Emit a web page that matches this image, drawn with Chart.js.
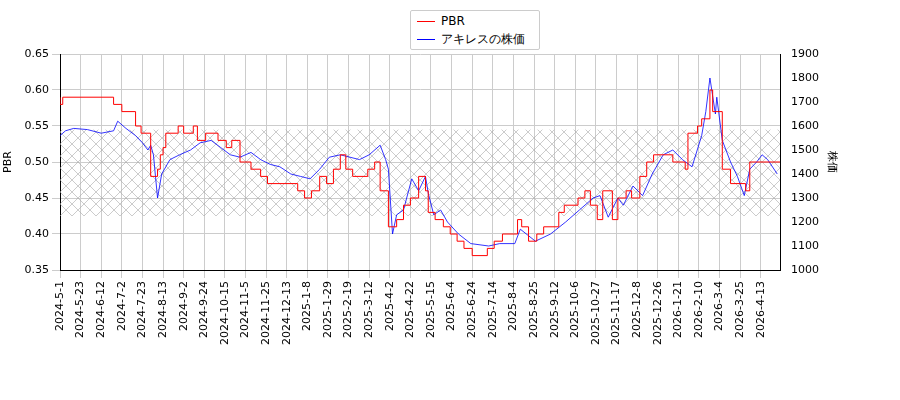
<!DOCTYPE html>
<html>
<head>
<meta charset="utf-8">
<script src="https://cdn.jsdelivr.net/npm/chart.js@4"></script>
<style>
  body { margin: 0; background: #fff; }
  #wrap { width: 900px; height: 400px; position: relative; }
  #legend { position: absolute; left: 410px; top: 10px; width: 128px; height: 36px; border: 1px solid #ccc;
    border-radius: 2px; font: 12px 'DejaVu Sans'; background: #fff; padding: 1px 0; }
  #legend div { height: 18px; line-height: 18px; }
  #legend span { display: inline-block; width: 18px; height: 0; vertical-align: middle; margin: 0 6px 0 6px; }
</style>
</head>
<body>
<div id="wrap"><canvas id="chart1"></canvas>
  <div id="legend">
    <div><span style="border-top:1.5px solid #ff0000"></span>PBR</div>
    <div><span style="border-top:1.5px solid #0000ff"></span>アキレスの株価</div>
  </div>
</div>
<script>
// tick labels, one every 15 trading days
const tickLabels = ['2024-5-1','2024-5-23','2024-6-12','2024-7-2','2024-7-23','2024-8-13','2024-9-2','2024-9-24',
  '2024-10-15','2024-11-5','2024-11-25','2024-12-13','2025-1-8','2025-1-29','2025-2-19','2025-3-12','2025-4-2',
  '2025-4-22','2025-5-15','2025-6-4','2025-6-24','2025-7-14','2025-8-4','2025-8-25','2025-9-12','2025-10-6',
  '2025-10-27','2025-11-17','2025-12-8','2025-12-26','2026-1-21','2026-2-10','2026-3-4','2026-3-25','2026-4-13'];
const lastDay = 524;

// PBR (step changes): trading day index -> value
const pbrDay = [0,2,39,45,55,59,66,71,73,75,77,86,90,97,100,106,115,121,125,131,139,146,151,173,178,183,189,194,199,204,208,213,224,229,233,239,245,250,255,261,266,268,273,279,284,289,294,300,311,316,322,333,336,341,347,352,363,367,377,382,386,391,395,402,406,412,416,422,427,432,446,455,457,464,467,473,475,482,488,499,502,507,524];
const pbrVal = [0.59,0.58,0.59,0.58,0.57,0.55,0.54,0.48,0.49,0.51,0.52,0.54,0.55,0.54,0.55,0.53,0.54,0.53,0.52,0.53,0.50,0.49,0.48,0.47,0.46,0.45,0.46,0.48,0.47,0.49,0.51,0.49,0.48,0.49,0.50,0.46,0.41,0.42,0.44,0.45,0.48,0.46,0.43,0.42,0.41,0.40,0.39,0.38,0.37,0.38,0.39,0.40,0.42,0.41,0.39,0.40,0.41,0.43,0.44,0.45,0.46,0.44,0.42,0.46,0.42,0.45,0.46,0.45,0.48,0.50,0.51,0.50,0.49,0.54,0.55,0.56,0.60,0.57,0.49,0.47,0.46,0.50,0.50];

// share price
const priceDay = [0,4,10,20,30,39,42,48,55,60,64,66,68,71,74,80,87,95,102,110,117,124,131,139,146,153,160,168,175,182,189,196,204,211,218,225,233,237,239,242,245,250,256,261,266,268,272,277,282,290,299,312,320,331,335,346,357,368,378,388,393,399,406,410,417,424,431,439,446,453,460,467,470,473,477,478,482,488,493,498,502,507,511,515,522];
const priceVal = [1560,1580,1590,1585,1570,1580,1620,1590,1560,1530,1500,1520,1480,1300,1400,1460,1480,1500,1530,1540,1510,1480,1470,1490,1460,1440,1430,1400,1390,1380,1420,1470,1480,1470,1460,1480,1520,1460,1420,1150,1230,1250,1380,1330,1390,1320,1230,1250,1200,1150,1110,1100,1110,1110,1170,1120,1150,1200,1250,1300,1310,1220,1300,1270,1350,1310,1400,1480,1500,1460,1430,1560,1660,1800,1650,1720,1540,1450,1390,1310,1420,1450,1480,1460,1400];

const bandLow = 0.425, bandHigh = 0.545;

function pts(d, v) { return d.map((x, i) => ({x: x, y: v[i]})); }

// hatched range band, drawn behind the lines
const bandPlugin = {
  id: 'band',
  beforeDatasetsDraw(chart) {
    const {ctx, chartArea, scales} = chart;
    const p = document.createElement('canvas');
    p.width = 12; p.height = 12;
    const pc = p.getContext('2d');
    pc.strokeStyle = '#aaa'; pc.lineWidth = 0.6;
    pc.beginPath();
    pc.moveTo(0, 0); pc.lineTo(12, 12);
    pc.moveTo(12, 0); pc.lineTo(0, 12);
    pc.stroke();
    const top = scales.y.getPixelForValue(bandHigh);
    const bot = scales.y.getPixelForValue(bandLow);
    ctx.save();
    ctx.fillStyle = ctx.createPattern(p, 'repeat');
    ctx.fillRect(chartArea.left, top, chartArea.right - chartArea.left, bot - top);
    ctx.restore();
  }
};

Chart.defaults.font.family = 'DejaVu Sans';
Chart.defaults.font.size = 11;
Chart.defaults.color = '#000';

const ctx = document.querySelector('#chart1').getContext('2d');
new Chart(ctx, {
  type: 'line',
  data: {
    datasets: [
      { label: 'PBR', data: pts(pbrDay, pbrVal), borderColor: '#ff0000', backgroundColor: '#ff0000',
        borderWidth: 1, pointRadius: 0, stepped: 'after', yAxisID: 'y' },
      { label: 'アキレスの株価', data: pts(priceDay, priceVal), borderColor: '#0000ff', backgroundColor: '#0000ff',
        borderWidth: 0.8, pointRadius: 0, yAxisID: 'y2' }
    ]
  },
  options: {
    animation: false,
    responsive: true,
    maintainAspectRatio: false,
    layout: { padding: { top: 54, right: 60, left: 0, bottom: 0 } },
    plugins: {
      legend: { display: false },
      tooltip: { enabled: false }
    },
    scales: {
      x: {
        type: 'linear', min: 0, max: lastDay,
        grid: { color: '#ccc' },
        border: { color: '#000' },
        afterFit(s) { s.height = 130; },
        afterBuildTicks(s) { s.ticks = tickLabels.map((t, i) => ({ value: i * 15 })); },
        ticks: { autoSkip: false, maxRotation: 90, minRotation: 90,
          callback: v => tickLabels[Math.round(v / 15)] }
      },
      y: {
        position: 'left', min: 0.35, max: 0.65,
        grid: { color: '#ccc' },
        border: { color: '#000' },
        afterFit(s) { s.width = 60; },
        ticks: { stepSize: 0.05, callback: v => v.toFixed(2) },
        title: { display: true, text: 'PBR', padding: 2 }
      },
      y2: {
        position: 'right', min: 1000, max: 1900,
        grid: { display: false },
        border: { color: '#000' },
        afterFit(s) { s.width = 60; },
        ticks: { stepSize: 100, callback: v => String(v) },
        title: { display: true, text: '株価', padding: 2 }
      }
    }
  },
  plugins: [bandPlugin]
});
</script>
</body>
</html>
